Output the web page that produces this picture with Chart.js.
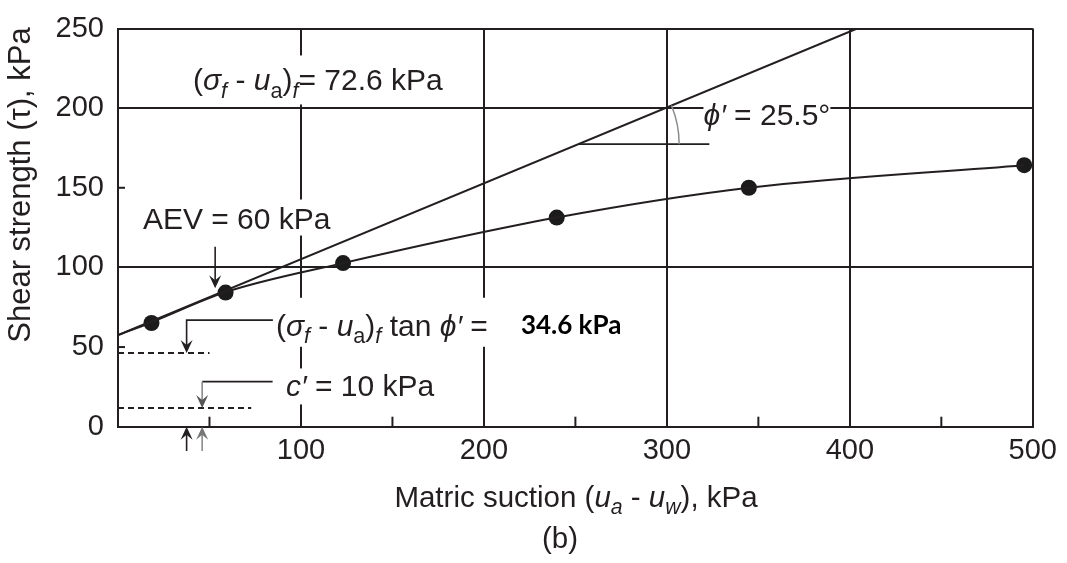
<!DOCTYPE html>
<html>
<head>
<meta charset="utf-8">
<script src="https://cdn.jsdelivr.net/npm/chart.js@4.4.1/dist/chart.umd.min.js"></script>
<style>
  html, body { margin: 0; padding: 0; background: #fff; }
</style>
</head>
<body>
<canvas id="myChart" width="1067" height="563"></canvas>
<script>
// measured points
const suction = [18.3, 58.8, 123, 239.8, 344.8, 495.3];
const strength = [65.1, 84.2, 102.7, 131.3, 150.0, 164.2];

// fitted curve through the points (starts on the envelope at zero suction)
const curveX = [0, 18.3, 58.8, 123, 239.8, 344.8, 495.3];
const curveY = [57.5, 65.6, 84.5, 102.7, 131.3, 150.0, 164.2];

// straight extended envelope, phi' = 25.5 deg
const envelopeX = [0, 404];
const envelopeY = [57.5, 250];

const xTicks = [100, 200, 300, 400, 500];
const yTicks = [0, 50, 100, 150, 200, 250];

const INK = '#231f20';
const GREY = '#8c8c8c';
const FONT = '"Liberation Sans", Arial, Helvetica, sans-serif';
const NOTE_SIZE = 30;

function pts(xs, ys) {
  return xs.map((x, i) => ({ x: x, y: ys[i] }));
}

function arrowHead(ctx, x, y, dir, color) {
  // dir 1 = pointing down, -1 = pointing up
  ctx.save();
  ctx.fillStyle = color || INK;
  ctx.beginPath();
  ctx.moveTo(x, y);
  ctx.lineTo(x - 6, y - 13 * dir);
  ctx.lineTo(x, y - 8 * dir);
  ctx.lineTo(x + 6, y - 13 * dir);
  ctx.closePath();
  ctx.fill();
  ctx.restore();
}

function setFont(ctx, style, size) {
  const italic = style.includes('i');
  const sub = style.includes('s');
  const fs = sub ? size * 0.72 : size;
  ctx.font = (italic ? 'italic ' : '') + fs + 'px ' + FONT;
  return sub;
}

function richWidth(ctx, parts, size) {
  let w = 0;
  parts.forEach(([t, s]) => {
    setFont(ctx, s, size);
    w += ctx.measureText(t).width;
  });
  return w;
}

// draws text with italic / subscript runs, left edge x, vertical centre cy
function richText(ctx, x, cy, parts, size, box) {
  const w = richWidth(ctx, parts, size);
  if (box) {
    ctx.fillStyle = '#fff';
    ctx.fillRect(x - box[2], cy - box[0], w + 2 * box[2], box[0] + box[1]);
  }
  const base = cy + size * 0.36;
  let cx = x;
  ctx.fillStyle = INK;
  ctx.textBaseline = 'alphabetic';
  ctx.textAlign = 'left';
  parts.forEach(([t, s]) => {
    const sub = setFont(ctx, s, size);
    ctx.fillText(t, cx, sub ? base + size * 0.26 : base);
    cx += ctx.measureText(t).width;
  });
  return w;
}

const notesPlugin = {
  id: 'notes',
  afterDatasetsDraw(chart) {
    const ctx = chart.ctx;
    const xs = chart.scales.x;
    const ys = chart.scales.y;
    const px = v => xs.getPixelForValue(v);
    const py = v => ys.getPixelForValue(v);
    const area = chart.chartArea;

    ctx.save();
    ctx.strokeStyle = INK;
    ctx.lineWidth = 2;

    // short inner ticks
    [50, 150, 250, 350, 450].forEach(v => {
      ctx.beginPath();
      ctx.moveTo(px(v), area.bottom);
      ctx.lineTo(px(v), area.bottom - 10);
      ctx.stroke();
    });
    [50, 150].forEach(v => {
      ctx.beginPath();
      ctx.moveTo(area.left, py(v));
      ctx.lineTo(area.left + 7, py(v));
      ctx.stroke();
    });

    // dashed reference levels
    ctx.setLineDash([6, 4]);
    ctx.beginPath();
    ctx.moveTo(px(0), py(46.3));
    ctx.lineTo(px(50), py(46.3));
    ctx.moveTo(px(0), py(11.8));
    ctx.lineTo(px(72.8), py(11.8));
    ctx.stroke();
    ctx.setLineDash([]);

    // leaders
    ctx.lineWidth = 1.6;
    ctx.beginPath();
    ctx.moveTo(px(86.3), py(66.9));
    ctx.lineTo(px(37.5), py(66.9));
    ctx.lineTo(px(37.5), py(46.3) - 8);
    ctx.moveTo(px(84.5), py(28.3));
    ctx.lineTo(px(46), py(28.3));
    ctx.moveTo(px(53.1), py(113));
    ctx.lineTo(px(53.1), py(87) - 8);
    ctx.moveTo(px(37.5), py(-15.3));
    ctx.lineTo(px(37.5), py(0) + 8);
    ctx.stroke();
    ctx.strokeStyle = GREY;
    ctx.beginPath();
    ctx.moveTo(px(46), py(28.3));
    ctx.lineTo(px(46), py(11.8) - 8);
    ctx.moveTo(px(46), py(-15.3));
    ctx.lineTo(px(46), py(0) + 8);
    ctx.stroke();
    arrowHead(ctx, px(37.5), py(46.3), 1);
    arrowHead(ctx, px(46), py(11.8), 1, '#555');
    arrowHead(ctx, px(53.1), py(87), 1);
    arrowHead(ctx, px(37.5), py(0), -1);
    arrowHead(ctx, px(46), py(0), -1, '#777');

    // angle marker on the envelope
    const slope = (envelopeY[1] - envelopeY[0]) / (envelopeX[1] - envelopeX[0]);
    const baseY = 177.4;
    const baseX = envelopeX[0] + (baseY - envelopeY[0]) / slope;
    ctx.strokeStyle = INK;
    ctx.lineWidth = 1.8;
    ctx.beginPath();
    ctx.moveTo(px(baseX), py(baseY));
    ctx.lineTo(px(323.2), py(baseY));
    ctx.stroke();
    const ang = Math.atan2(py(envelopeY[0]) - py(envelopeY[1]), px(envelopeX[1]) - px(envelopeX[0]));
    const r = px(306.7) - px(baseX);
    ctx.strokeStyle = GREY;
    ctx.lineWidth = 1.5;
    ctx.beginPath();
    ctx.arc(px(baseX), py(baseY), r, -ang, 0);
    ctx.stroke();

    // labels
    const s = NOTE_SIZE;
    richText(ctx, px(41), py(218), [['(', ''], ['σ', 'i'], ['f', 'is'], [' - ', ''], ['u', 'i'], ['a', 's'], [')', ''], ['f', 'is'], ['= 72.6 kPa', '']], s, [24, 25, 4]);
    richText(ctx, px(13.6), py(130.7), [['AEV = 60 kPa', '']], s, [19, 17, 4]);
    richText(ctx, px(86.3), py(64), [['(', ''], ['σ', 'i'], ['f', 'is'], [' - ', ''], ['u', 'i'], ['a', 's'], [')', ''], ['f', 'is'], [' tan ', ''], ['ϕ′', 'i'], [' = ', '']], s, [27, 22, 3]);
    richText(ctx, px(91.8), py(25.9), [['c′', 'i'], [' = 10 kPa', '']], s, [17, 19, 3]);
    richText(ctx, px(320), py(196.4), [['ϕ′', 'i'], [' = 25.5°', '']], s, [11, 12, 0]);

    ctx.fillStyle = '#000';
    ctx.font = 'bold 26px Lato, "Open Sans", sans-serif';
    ctx.textBaseline = 'middle';
    ctx.fillText('34.6 kPa', px(220.2), py(64) + 1);

    // axis titles
    const xt = [['Matric suction (', ''], ['u', 'i'], ['a', 'is'], [' - ', ''], ['u', 'i'], ['w', 'is'], ['), kPa', '']];
    const xw = richWidth(ctx, xt, 29.5);
    richText(ctx, 576 - xw / 2, 496, xt, 29.5);
    ctx.fillStyle = INK;
    ctx.font = '29.5px ' + FONT;
    ctx.textAlign = 'center';
    ctx.textBaseline = 'middle';
    ctx.fillText('(b)', 560, 540);

    ctx.save();
    ctx.translate(21, 185);
    ctx.rotate(-Math.PI / 2);
    ctx.font = '31px ' + FONT;
    ctx.fillText('Shear strength (τ), kPa', 0, 0);
    ctx.restore();

    ctx.restore();
  }
};

const ctx = document.getElementById('myChart');

const myChart = new Chart(ctx, {
  type: 'scatter',
  data: {
    datasets: [
      {
        label: 'Envelope',
        data: pts(envelopeX, envelopeY),
        showLine: true,
        borderColor: INK,
        borderWidth: 2,
        pointRadius: 0
      },
      {
        label: 'Curve',
        data: pts(curveX, curveY),
        showLine: true,
        cubicInterpolationMode: 'monotone',
        borderColor: INK,
        borderWidth: 2,
        pointRadius: 0
      },
      {
        label: 'Measured',
        data: pts(suction, strength),
        showLine: false,
        pointRadius: 8,
        pointBackgroundColor: '#1b1b1b',
        pointBorderWidth: 0
      }
    ]
  },
  options: {
    responsive: false,
    animation: false,
    devicePixelRatio: 1,
    layout: { padding: { left: 0, top: 14.5, right: 30, bottom: 0 } },
    plugins: {
      legend: { display: false },
      tooltip: { enabled: false }
    },
    scales: {
      x: {
        type: 'linear',
        min: 0,
        max: 500,
        afterFit: scale => { scale.height = 136.3; },
        afterBuildTicks: scale => { scale.ticks = [0].concat(xTicks).map(v => ({ value: v })); },
        ticks: {
          callback: v => (xTicks.includes(v) ? String(v) : ''),
          font: { family: FONT, size: 29, lineHeight: 1 },
          color: INK,
          padding: 10,
          maxRotation: 0
        },
        grid: {
          drawTicks: false,
          lineWidth: 2,
          color: c => (c.tick && xTicks.includes(c.tick.value) ? INK : 'rgba(0,0,0,0)')
        },
        border: { display: true, color: INK, width: 2 }
      },
      y: {
        type: 'linear',
        min: 0,
        max: 250,
        afterFit: scale => { scale.width = 118; },
        afterBuildTicks: scale => { scale.ticks = yTicks.map(v => ({ value: v })); },
        ticks: {
          font: { family: FONT, size: 29, lineHeight: 1 },
          color: INK,
          padding: 14
        },
        grid: {
          drawTicks: false,
          lineWidth: 2,
          color: c => (c.tick && [100, 200, 250].includes(c.tick.value) ? INK : 'rgba(0,0,0,0)')
        },
        border: { display: true, color: INK, width: 2 }
      }
    }
  },
  plugins: [notesPlugin]
});
</script>
</body>
</html>
